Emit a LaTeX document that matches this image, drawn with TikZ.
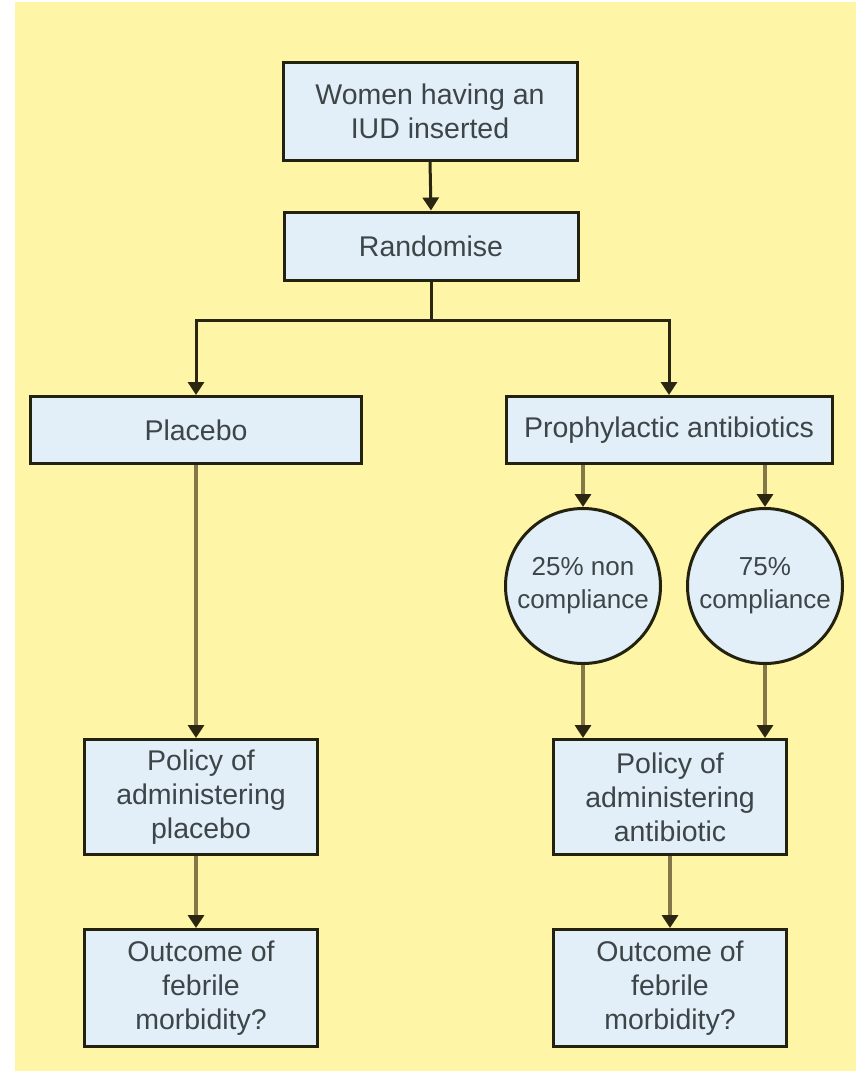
\documentclass[tikz,border=0pt]{standalone}
\usepackage{fontspec}
\setmainfont{Liberation Sans}
\usetikzlibrary{arrows.meta}
\definecolor{bgyellow}{HTML}{FFF5A6}
\definecolor{boxfill}{HTML}{E2EFF8}
\definecolor{boxline}{HTML}{23220F}
\definecolor{txt}{HTML}{3E4548}
\definecolor{olive}{HTML}{847849}
\definecolor{tipdark}{HTML}{2A2612}
\tikzset{
  fbox/.style={draw=boxline, line width=3pt, fill=boxfill, text=txt, rectangle,
    inner sep=0pt, align=center, font=\fontsize{28.5}{34}\selectfont},
  fcirc/.style={draw=boxline, line width=3pt, fill=boxfill, text=txt, circle,
    inner sep=0pt, minimum size=155pt, align=center, font=\fontsize{26}{33}\selectfont},
  darkconn/.style={draw=tipdark, line width=3pt},
  oliveconn/.style={draw=olive, line width=4.5pt},
  tip/.style={-{Triangle[width=16pt,length=13pt,color=tipdark]}}
}
\begin{document}
\begin{tikzpicture}[x=1pt,y=-1pt]
\useasboundingbox (0,0) rectangle (856,1071);
\fill[bgyellow] (15,2) rectangle (856,1071);

\node[fbox, minimum width=294pt, minimum height=98pt] (top) at (430,111) {Women having an\\IUD inserted};
\node[fbox, minimum width=294pt, minimum height=68pt] (rand) at (431,246) {Randomise};
\coordinate (split) at (431,320);
\node[fbox, minimum width=331pt, minimum height=67pt] (plac) at (196,430) {Placebo};
\node[fbox, minimum width=326pt, minimum height=67pt] (proph) at (669,430) {Prophylactic antibiotics};
\node[fcirc] (c1) at (583,586) {25\% non\\compliance};
\node[fcirc] (c2) at (765,586) {75\%\\compliance};
\node[fbox, minimum width=233pt, minimum height=115pt] (polp) at (201,797) {Policy of\\administering\\placebo};
\node[fbox, minimum width=233pt, minimum height=115pt] (pola) at (670,797) {Policy of\\administering\\antibiotic};
\node[fbox, minimum width=233pt, minimum height=117pt] (outp) at (201,988) {Outcome of\\febrile\\morbidity?};
\node[fbox, minimum width=233pt, minimum height=117pt] (outa) at (670,988) {Outcome of\\febrile\\morbidity?};

\draw[darkconn, tip] (top.south) -- (rand.north);
\draw[darkconn] (rand.south) -- (split);
\draw[darkconn, tip] (split) -| (plac.north);
\draw[darkconn, tip] (split) -| (proph.north);

\draw[oliveconn, tip] (c1.north |- proph.south) -- (c1.north);
\draw[oliveconn, tip] (c2.north |- proph.south) -- (c2.north);
\draw[oliveconn, tip] (c1.south) -- (c1.south |- pola.north);
\draw[oliveconn, tip] (c2.south) -- (c2.south |- pola.north);
\draw[oliveconn, tip] (plac.south) -- (plac.south |- polp.north);
\draw[oliveconn, tip] (polp.south -| plac.south) -- (plac.south |- outp.north);
\draw[oliveconn, tip] (pola.south) -- (outa.north);
\end{tikzpicture}
\end{document}
